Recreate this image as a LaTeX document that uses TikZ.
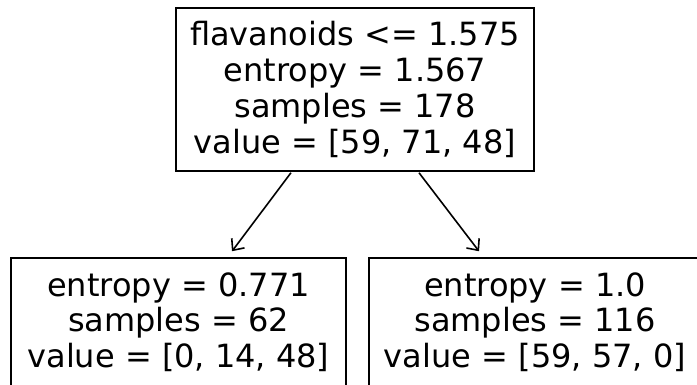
\documentclass[tikz,border=0pt]{standalone}
\usepackage{fontspec}
\setmainfont{DejaVu Sans}
\usetikzlibrary{arrows.meta}
\begin{document}
\begin{tikzpicture}[x=1pt,y=1pt,
  treebox/.style={draw=black, line width=1.5pt, align=center, inner sep=0pt,
    font=\fontsize{32}{35.7}\selectfont},
  edge/.style={line width=1.6pt, -{Straight Barb[length=9pt,width=16pt,line width=1.6pt]}}]
\useasboundingbox (0,0) rectangle (697,385);
\clip (0,0) rectangle (697,385);
\node[treebox, minimum width=358pt, minimum height=163pt] (root) at (355,295.5)
  {flavanoids <= 1.575\\entropy = 1.567\\samples = 178\\value = [59, 71, 48]};
\node[treebox, minimum width=335pt, minimum height=128pt] (left) at (178.5,63)
  {entropy = 0.771\\samples = 62\\value = [0, 14, 48]};
\node[treebox, minimum width=332pt, minimum height=128pt] (right) at (535,63)
  {entropy = 1.0\\samples = 116\\value = [59, 57, 0]};
\draw[edge] ([xshift=-64pt,yshift=-1pt]root.south) -- ([xshift=53.5pt,yshift=6pt]left.north);
\draw[edge] ([xshift=64pt,yshift=-1pt]root.south) -- ([xshift=-56pt,yshift=6pt]right.north);
\end{tikzpicture}
\end{document}
